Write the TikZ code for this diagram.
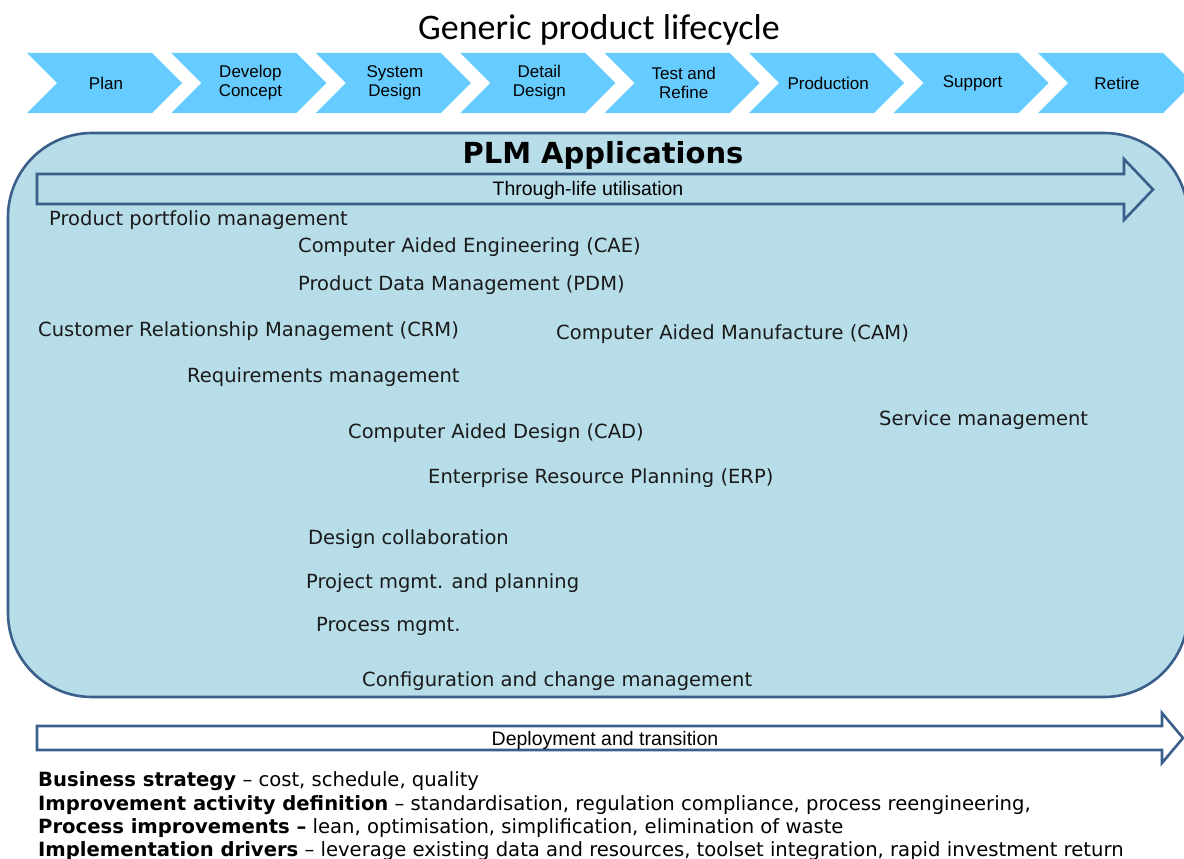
\documentclass[tikz,border=0pt]{standalone}
\usepackage{fontspec}
\setmainfont{DejaVu Sans}
\newfontfamily\arialf{Liberation Sans}
\newfontfamily\calibrif{Carlito}
\definecolor{chev}{HTML}{66CCFF}
\definecolor{plmfill}{HTML}{B7DDE8}
\definecolor{plmline}{HTML}{3A5F8B}
\definecolor{txt}{HTML}{1A1A1A}
\begin{document}
\begin{tikzpicture}[x=1pt,y=-1pt,
  chevbox/.style={fill=chev,draw=none},
  chevlabel/.style={font=\arialf\fontsize{17}{19}\selectfont,align=center,text=black,inner sep=0pt},
  app/.style={font=\fontsize{19.5}{23}\selectfont,anchor=west,inner sep=0pt,text=txt},
  note/.style={font=\fontsize{19.6}{23}\selectfont,anchor=west,inner sep=0pt,text=black},
  bigarrow/.style={draw=plmline,line width=2.6pt,miter limit=10},
  arrowlabel/.style={font=\arialf\fontsize{19.5}{21}\selectfont,text=black,inner sep=0pt}]
\useasboundingbox (0,0) rectangle (1184,859);
\begin{scope}
\clip (0,0) rectangle (1184,859);
% title
\node[font=\calibrif\fontsize{36}{42}\selectfont,text=black] (title) at (599,30) {Generic product lifecycle};
% chevrons
\foreach \lab [count=\i from 0] in {Plan,{Develop\\Concept},{System\\Design},{Detail\\Design},{Test and\\Refine},Production,Support,Retire}{
  \pgfmathsetmacro\xo{27+144.43*\i}
  \fill[chevbox] (\xo,53) -- ++(125,0) -- ++(30,30) -- ++(-30,30) -- ++(-125,0) -- ++(30,-30) -- cycle;
  \node[chevlabel] (c\i) at (\xo+79,83) {\lab};
}
% PLM box
\draw[draw=plmline,fill=plmfill,line width=2.6pt,rounded corners=84pt] (8,133) rectangle (1188,697);
\node[font=\bfseries\fontsize{29}{34}\selectfont,text=black] (plm) at (603,155) {PLM Applications};
% through-life arrow
\draw[bigarrow] (37,174) -- (1124,174) -- (1124,159) -- (1153,189.5) -- (1124,220) -- (1124,204) -- (37,204) -- cycle;
\node[arrowlabel] (tl) at (588,190) {Through-life utilisation};
% applications
\node[app] (ppm) at (49,220) {Product portfolio management};
\node[app] (cae) at (298,247) {Computer Aided Engineering (CAE)};
\node[app] (pdm) at (298,285) {Product Data Management (PDM)};
\node[app] (crm) at (38,331) {Customer Relationship Management (CRM)};
\node[app] (cam) at (556,334) {Computer Aided Manufacture (CAM)};
\node[app] (req) at (187,377) {Requirements management};
\node[app] (svc) at (879,420) {Service management};
\node[app] (cad) at (348,433) {Computer Aided Design (CAD)};
\node[app] (erp) at (428,478) {Enterprise Resource Planning (ERP)};
\node[app] (dc) at (308,539) {Design collaboration};
\node[app] (pmp) at (306,583) {Project mgmt. and planning};
\node[app] (prm) at (316,626) {Process mgmt.};
\node[app] (ccm) at (362,681) {Configuration and change management};
% deployment arrow
\draw[bigarrow,fill=white] (37,726) -- (1162,726) -- (1162,713) -- (1183,738) -- (1162,763) -- (1162,750) -- (37,750) -- cycle;
\node[arrowlabel] (dt) at (605,740) {Deployment and transition};
% notes
\node[note] (n1) at (38,781) {\textbf{Business strategy} – cost, schedule, quality};
\node[note] (n2) at (38,805) {\textbf{Improvement activity definition} – standardisation, regulation compliance, process reengineering,};
\node[note] (n3) at (38,828) {\textbf{Process improvements –} lean, optimisation, simplification, elimination of waste};
\node[note] (n4) at (38,851) {\textbf{Implementation drivers} – leverage existing data and resources, toolset integration, rapid investment return};
\end{scope}
\end{tikzpicture}
\end{document}
